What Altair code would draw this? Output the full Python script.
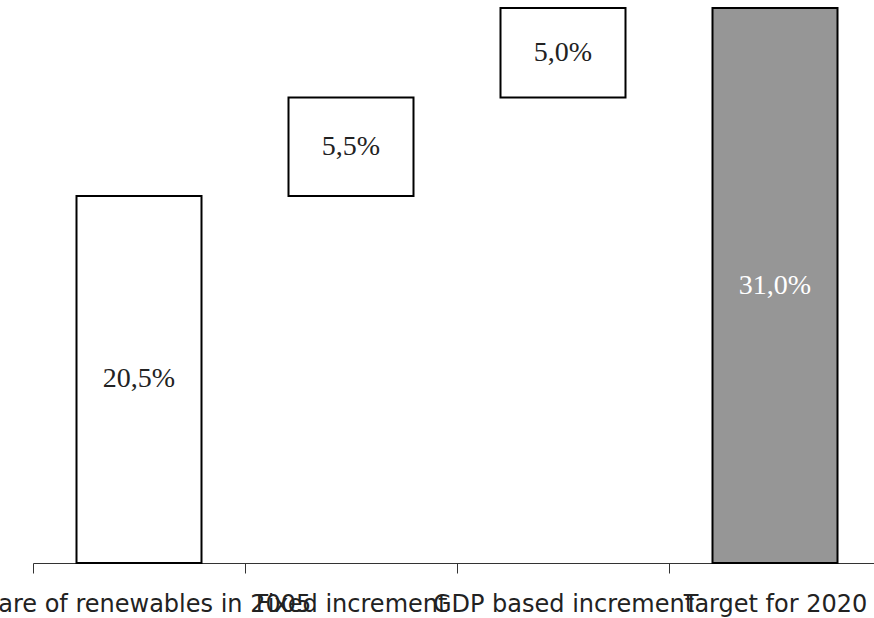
import altair as alt
import pandas as pd

# Waterfall steps towards the 2020 renewables target
categories = ["Share of renewables in 2005", "Fixed increment", "GDP based increment", "Target for 2020"]
values = [20.5, 5.5, 5.0, 31.0]
kinds = ["total", "step", "step", "total"]

starts, ends = [], []
running = 0.0
for v, k in zip(values, kinds):
    if k == "total":
        starts.append(0.0)
        ends.append(v)
        running = v
    else:
        starts.append(running)
        running += v
        ends.append(running)

labels = [f"{v:.1f}%".replace(".", ",") for v in values]

df = pd.DataFrame({
    "category": categories,
    "start": starts,
    "end": ends,
    "label": labels,
})

AXIS_FONT = "DejaVu Sans"
VALUE_FONT = "Liberation Serif"

# full-width bands so the ticks sit on the category boundaries
x = alt.X(
    "category:N",
    sort=categories,
    scale=alt.Scale(range=[0, 848], paddingInner=0, paddingOuter=0),
    axis=alt.Axis(
        title=None,
        labelAngle=0,
        labelOverlap=False,
        labelLimit=0,
        labelFont=AXIS_FONT,
        labelFontSize=24,
        labelColor="#222222",
        labelBaseline="alphabetic",
        labelPadding=38,
        tickBand="extent",
        tickSize=10,
        tickColor="#333333",
        domainColor="#333333",
        tickWidth=1,
        domainWidth=1,
    ),
)
y_scale = alt.Scale(domain=[0, 31], nice=False, zero=True)

is_total = alt.datum.category == "Target for 2020"

bars = alt.Chart(df).mark_bar(stroke="black", strokeWidth=2, width=125).encode(
    x=x,
    y=alt.Y("start:Q", scale=y_scale, axis=None),
    y2="end:Q",
    fill=alt.condition(is_total, alt.value("#969696"), alt.value("white")),
)

text = alt.Chart(df).transform_calculate(
    mid="(datum.start + datum.end) / 2"
).mark_text(font=VALUE_FONT, fontSize=28, baseline="middle").encode(
    x=x,
    y=alt.Y("mid:Q", scale=y_scale, axis=None),
    text="label:N",
    color=alt.condition(is_total, alt.value("white"), alt.value("#222222")),
)

chart = (bars + text).properties(
    width=841,
    height=555,
    padding={"left": 33, "top": 8, "right": 0, "bottom": 55},
    autosize=alt.AutoSizeParams(type="none"),
    background="white",
).configure_view(strokeWidth=0)

chart.save("out.html", embed_options={"renderer": "svg", "actions": False})
